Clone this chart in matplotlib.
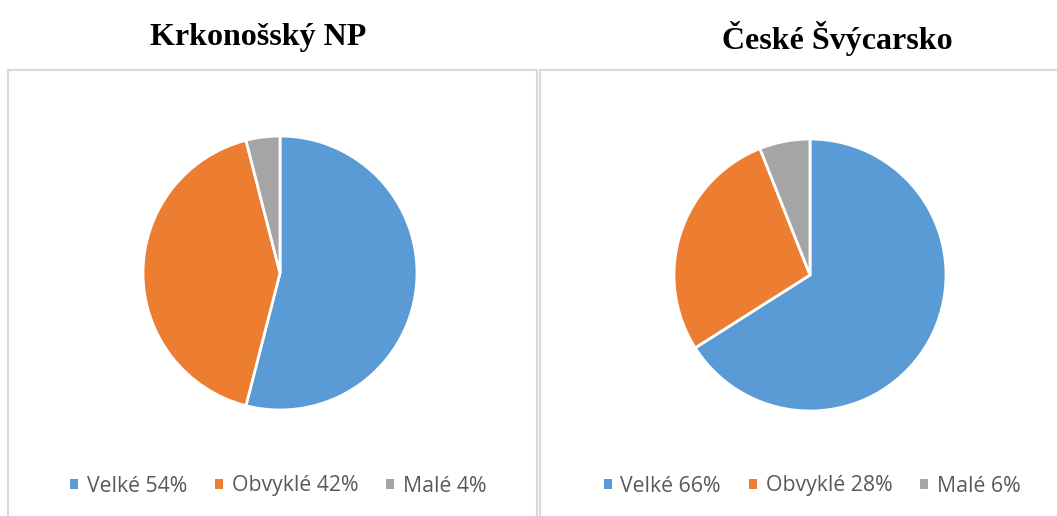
import matplotlib
matplotlib.use("Agg")
import matplotlib.pyplot as plt
from matplotlib.patches import Patch, Rectangle

# data
titles = ["Krkonošský NP", "České Švýcarsko"]
categories = ["Velké", "Obvyklé", "Malé"]
krkonose_values = [54, 42, 4]
svycarsko_values = [66, 28, 6]
colors = ["#5B9BD5", "#ED7D31", "#A5A5A5"]

W, H = 1057, 516
fig = plt.figure(figsize=(W / 100, H / 100), dpi=100)


def px(x, y, w, h):
    # pixel box (from top-left) -> figure fraction
    return [x / W, 1 - (y + h) / H, w / W, h / H]


# panel borders
for x0, x1 in [(8, 537), (540, 1070)]:
    r = Rectangle((x0 / W, -0.1), (x1 - x0) / W, 1 - 70 / H + 0.1,
                  transform=fig.transFigure, fill=False,
                  edgecolor="#D9D9D9", linewidth=1.5)
    fig.patches.append(r)

panels = [
    (titles[0], krkonose_values, (280, 273, 137), 258, 278),
    (titles[1], svycarsko_values, (810, 275, 136), 837, 812),
]

for title, values, (cx, cy, rad), tx, lx in panels:
    ax = fig.add_axes(px(cx - rad, cy - rad, 2 * rad, 2 * rad))
    ax.pie(values, colors=colors, startangle=90, counterclock=False,
           wedgeprops=dict(edgecolor="white", linewidth=2))
    ax.set_xlim(-1.0, 1.0)
    ax.set_ylim(-1.0, 1.0)
    ax.set_aspect("equal")
    ax.axis("off")

    fig.text(tx / W, 1 - 38 / H, title, ha="center", va="center",
             fontsize=23, fontweight="bold", family="Liberation Serif")

    handles = [Patch(facecolor=c, edgecolor="none") for c in colors]
    labels = [f"{c} {v}%" for c, v in zip(categories, values)]
    fig.legend(handles, labels, loc="center", ncol=3,
               bbox_to_anchor=(lx / W, 1 - 486 / H),
               frameon=False, prop=dict(family="Open Sans", size=15.3),
               labelcolor="#595959", handlelength=0.4, handleheight=0.4,
               handletextpad=0.4, columnspacing=1.3)

fig.savefig("out.png", dpi=100)
